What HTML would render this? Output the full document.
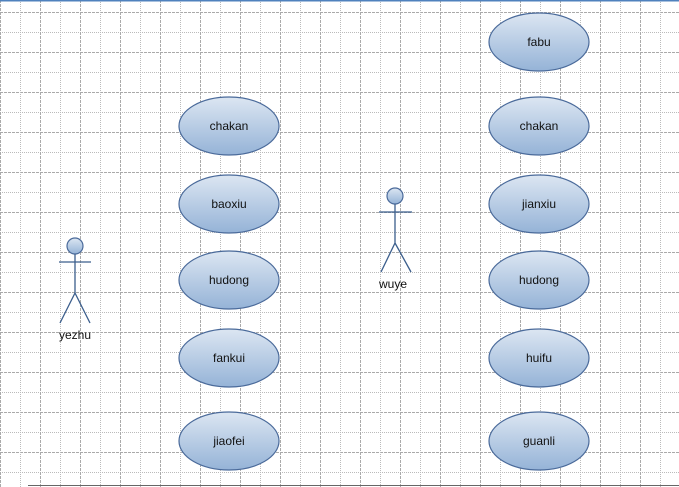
<!DOCTYPE html>
<html><head><style>
html,body{margin:0;padding:0;background:#fff;}
svg{display:block;}
text{font-family:"Liberation Sans",sans-serif;font-size:12px;fill:#111;}
</style></head><body>
<svg width="679" height="487" xmlns="http://www.w3.org/2000/svg">
<defs>
<pattern id="g" x="0" y="12" width="40" height="40" patternUnits="userSpaceOnUse">
<line x1="0" y1="0.5" x2="40" y2="0.5" stroke="#aaa" stroke-dasharray="3,1"/>
<line x1="0" y1="20.5" x2="40" y2="20.5" stroke="#bbb" stroke-dasharray="1,1"/>
<line x1="0.5" y1="0" x2="0.5" y2="40" stroke="#aaa" stroke-dasharray="3,1"/>
<line x1="20.5" y1="0" x2="20.5" y2="40" stroke="#bbb" stroke-dasharray="1,1"/>
</pattern>
<linearGradient id="e" x1="0" y1="0" x2="0" y2="1">
<stop offset="0" stop-color="#dce6f2"/><stop offset="1" stop-color="#95b3d7"/>
</linearGradient>
</defs>
<rect width="679" height="487" fill="url(#g)"/>
<line x1="0" y1="0.5" x2="679" y2="0.5" stroke="#4f81bd" stroke-width="2"/>
<line x1="28" y1="485.5" x2="679" y2="485.5" stroke="#666"/>
<g stroke="#4a6a9a" stroke-width="1.2" fill="url(#e)">
<ellipse cx="229" cy="126" rx="50" ry="29"/>
<ellipse cx="229" cy="204" rx="50" ry="29"/>
<ellipse cx="229" cy="280" rx="50" ry="29"/>
<ellipse cx="229" cy="358" rx="50" ry="29"/>
<ellipse cx="229" cy="441" rx="50" ry="29"/>
<ellipse cx="539" cy="42" rx="50" ry="29"/>
<ellipse cx="539" cy="126" rx="50" ry="29"/>
<ellipse cx="539" cy="204" rx="50" ry="29"/>
<ellipse cx="539" cy="280" rx="50" ry="29"/>
<ellipse cx="539" cy="358" rx="50" ry="29"/>
<ellipse cx="539" cy="441" rx="50" ry="29"/>
<circle cx="75" cy="246" r="8"/>
<circle cx="395" cy="196" r="8"/>
</g>
<g stroke="#3b5e8c" stroke-width="1.3" fill="none">
<path d="M59 262H91M75 254V293L60 323M75 293L90 323"/>
<path d="M379 212H412M395 204V243L381 272M395 243L411 272"/>
</g>
<g text-anchor="middle">
<text x="229" y="130">chakan</text>
<text x="229" y="208">baoxiu</text>
<text x="229" y="284">hudong</text>
<text x="229" y="362">fankui</text>
<text x="229" y="445">jiaofei</text>
<text x="539" y="46">fabu</text>
<text x="539" y="130">chakan</text>
<text x="539" y="208">jianxiu</text>
<text x="539" y="284">hudong</text>
<text x="539" y="362">huifu</text>
<text x="539" y="445">guanli</text>
<text x="75" y="339">yezhu</text>
<text x="393" y="288">wuye</text>
</g>
</svg>
</body></html>
